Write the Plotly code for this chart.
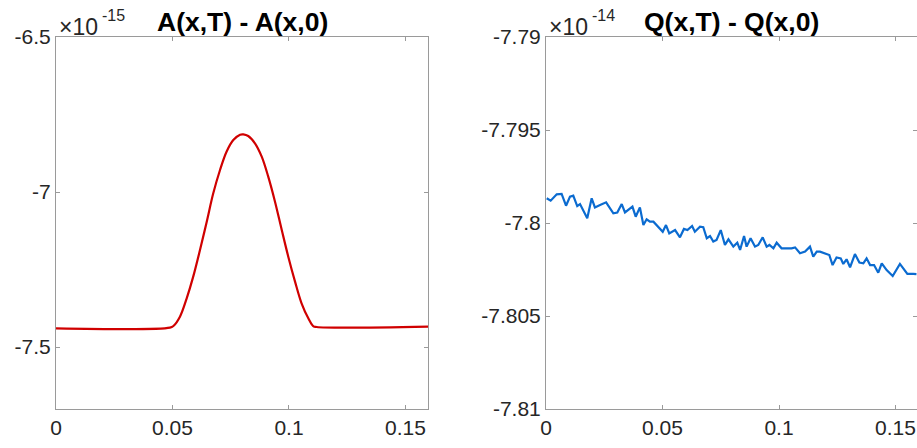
import plotly.graph_objects as go

# ---- data (values in units of the axis multiplier) ----
A_SCALE = "-15"
Q_SCALE = "-14"

a_x = [0.0, 0.0489, 0.0504, 0.0532, 0.0561, 0.0589, 0.0618, 0.0647, 0.0675,
       0.0704, 0.0732, 0.0761, 0.0790, 0.0804, 0.0825, 0.0854, 0.0883, 0.0911,
       0.0940, 0.0969, 0.0997, 0.1026, 0.1054, 0.1083, 0.1104, 0.1119, 0.1598]
a_y = [-7.4398, -7.4376, -7.4323, -7.4022, -7.3430, -7.2731, -7.1871, -7.0957,
       -7.0043, -6.9290, -6.8699, -6.8323, -6.8151, -6.8140, -6.8194, -6.8430,
       -6.8860, -6.9505, -7.0312, -7.1226, -7.2086, -7.2892, -7.3591, -7.4075,
       -7.4323, -7.4355, -7.4344]

q_x = [0.0003, 0.0020, 0.0046, 0.0067, 0.0086, 0.0103, 0.0117, 0.0134, 0.0146,
       0.0177, 0.0196, 0.0210, 0.0232, 0.0258, 0.0289, 0.0306, 0.0325, 0.0339,
       0.0371, 0.0385, 0.0403, 0.0418, 0.0432, 0.0446, 0.0461, 0.0475, 0.0501,
       0.0515, 0.0529, 0.0554, 0.0575, 0.0592, 0.0607, 0.0627, 0.0639, 0.0661,
       0.0675, 0.0690, 0.0704, 0.0718, 0.0732, 0.0750, 0.0768, 0.0783, 0.0804,
       0.0821, 0.0833, 0.0850, 0.0861, 0.0878, 0.0897, 0.0911, 0.0930, 0.0947,
       0.0959, 0.0976, 0.0990, 0.1011, 0.1033, 0.1054, 0.1069, 0.1090, 0.1112,
       0.1133, 0.1147, 0.1162, 0.1176, 0.1197, 0.1216, 0.1230, 0.1247, 0.1265,
       0.1276, 0.1290, 0.1305, 0.1326, 0.1345, 0.1362, 0.1376, 0.1391, 0.1408,
       0.1426, 0.1441, 0.1462, 0.1488, 0.1519, 0.1551, 0.1576, 0.1590]
q_y = [-7.79867, -7.79880, -7.79846, -7.79844, -7.79907, -7.79858, -7.79853,
       -7.79909, -7.79898, -7.79975, -7.79867, -7.79916, -7.79903, -7.79889,
       -7.79948, -7.79944, -7.79898, -7.79943, -7.79912, -7.79966, -7.79916,
       -7.80011, -7.79980, -7.79993, -7.79993, -7.80011, -7.80047, -7.80011,
       -7.80056, -7.80038, -7.80077, -7.80032, -7.80038, -7.80016, -7.80047,
       -7.80020, -7.80023, -7.80082, -7.80070, -7.80100, -7.80091, -7.80038,
       -7.80118, -7.80088, -7.80127, -7.80106, -7.80145, -7.80070, -7.80127,
       -7.80082, -7.80127, -7.80118, -7.80077, -7.80127, -7.80118, -7.80136,
       -7.80106, -7.80136, -7.80136, -7.80136, -7.80131, -7.80163, -7.80154,
       -7.80127, -7.80181, -7.80154, -7.80154, -7.80163, -7.80172, -7.80226,
       -7.80185, -7.80190, -7.80220, -7.80195, -7.80238, -7.80167, -7.80213,
       -7.80217, -7.80190, -7.80226, -7.80226, -7.80267, -7.80217, -7.80253,
       -7.80285, -7.80220, -7.80274, -7.80274, -7.80275]

x_ticks = [0, 0.05, 0.1, 0.15]
x_tick_labels = ["0", "0.05", "0.1", "0.15"]
a_yticks = [-7.5, -7, -6.5]
a_ytick_labels = ["-7.5", "-7", "-6.5"]
q_yticks = [-7.81, -7.805, -7.8, -7.795, -7.79]
q_ytick_labels = ["-7.81", "-7.805", "-7.8", "-7.795", "-7.79"]

titles = ["A(x,T) - A(x,0)", "Q(x,T) - Q(x,0)"]

# ---- styling ----
W, H = 917, 448
FONT = "Liberation Sans, Arial, Helvetica, sans-serif"
TXT = "#262626"
AX = "#9a9a9a"

fig = go.Figure()
fig.add_trace(go.Scatter(x=a_x, y=a_y, mode="lines", line=dict(color="#d00000", width=2.2),
                         line_shape="spline", xaxis="x", yaxis="y", showlegend=False))
fig.add_trace(go.Scatter(x=q_x, y=q_y, mode="lines", line=dict(color="#0b6bd0", width=2.2),
                         xaxis="x2", yaxis="y2", showlegend=False))

axis_common = dict(showgrid=False, zeroline=False, showline=True, linecolor=AX, linewidth=1,
                   mirror="ticks", ticks="inside", ticklen=4, tickcolor=AX, tickwidth=1,
                   automargin=False, tickfont=dict(family=FONT, size=21, color=TXT))

ydom = [(H - 409) / H, (H - 37) / H]
l_dom = [56 / W, 428.3 / W]
r_dom = [546 / W, 1.0]

fig.update_layout(
    width=W, height=H, autosize=False,
    margin=dict(l=0, r=0, t=0, b=0, pad=0, autoexpand=False),
    paper_bgcolor="white", plot_bgcolor="white",
    xaxis=dict(domain=l_dom, range=[0, 0.1598], tickvals=x_ticks, ticktext=x_tick_labels,
               anchor="y", **axis_common),
    yaxis=dict(domain=ydom, range=[-7.7, -6.5], tickvals=a_yticks, ticktext=a_ytick_labels,
               anchor="x", **axis_common),
    xaxis2=dict(domain=r_dom, range=[0, 0.15923], tickvals=x_ticks, ticktext=x_tick_labels,
                anchor="y2", **axis_common),
    yaxis2=dict(domain=ydom, range=[-7.81, -7.79], tickvals=q_yticks, ticktext=q_ytick_labels,
                anchor="x2", **axis_common),
)

ann = []
for dom, t, sc in [(l_dom, titles[0], A_SCALE), (r_dom, titles[1], Q_SCALE)]:
    center = (dom[0] + (dom[0] + 372 / W)) / 2
    x0 = dom[0] * W
    ann.append(dict(text="<b>" + t + "</b>", xref="paper", yref="paper", x=center, y=(H - 22) / H,
                    xanchor="center", yanchor="middle", showarrow=False,
                    font=dict(family=FONT, size=26.5, color="black")))
    ann.append(dict(text="×10", xref="paper", yref="paper",
                    x=(x0 + 1) / W, y=(H - 27) / H, xanchor="left", yanchor="middle",
                    showarrow=False, font=dict(family=FONT, size=23, color=TXT)))
    ann.append(dict(text=sc, xref="paper", yref="paper",
                    x=(x0 + 44) / W, y=(H - 16) / H, xanchor="left", yanchor="middle",
                    showarrow=False, font=dict(family=FONT, size=16, color=TXT)))
fig.update_layout(annotations=ann)

fig.write_html("out.html", config={"responsive": False},
               post_script="document.body.style.margin='0';document.body.style.overflow='hidden';")
